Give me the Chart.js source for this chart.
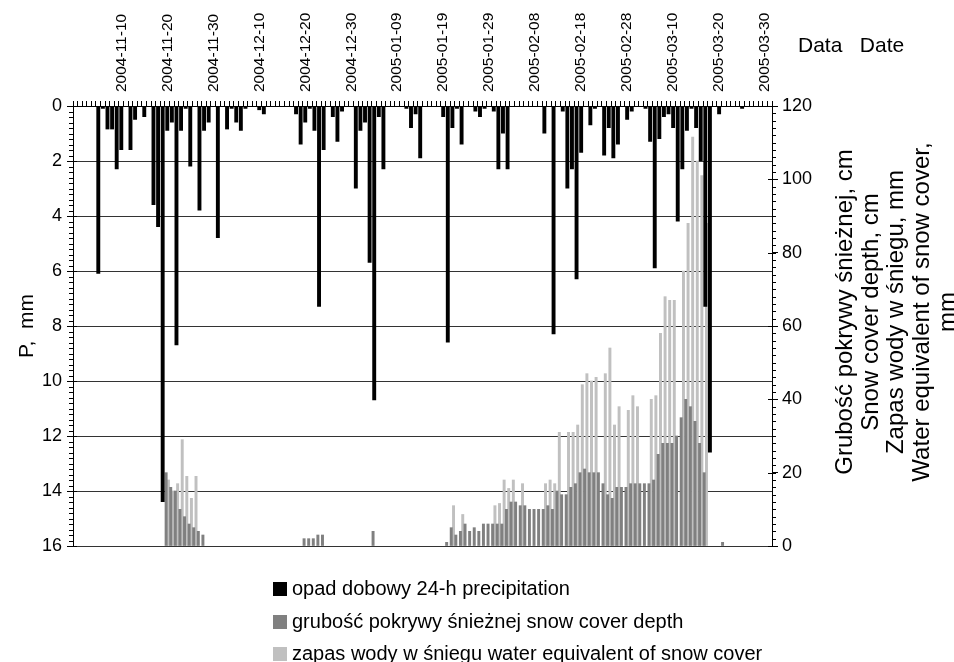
<!DOCTYPE html>
<html>
<head>
<meta charset="utf-8">
<script src="https://cdn.jsdelivr.net/npm/chart.js@4.4.1/dist/chart.umd.min.js"></script>
<style>
  html, body { margin: 0; padding: 0; background: #fff; }
  #wrap { position: relative; width: 954px; height: 662px; font-family: 'Liberation Sans', Arial, sans-serif; color: #000; overflow: hidden; }
  #chart { position: absolute; left: 0; top: 0; }
  #rtitle { position: absolute; width: 440px; height: 128px; left: 675px; top: 248px; transform: rotate(-90deg); transform-origin: 50% 50%; text-align: center; font-size: 24px; line-height: 25.7px; white-space: nowrap; }
  #datehdr { position: absolute; left: 798px; top: 33px; font-size: 21px; white-space: pre; }
  #legend { position: absolute; left: 273px; top: 574px; font-size: 20px; }
  .lrow { height: 32.5px; line-height: 28px; white-space: nowrap; }
  .lsw { display: inline-block; width: 14px; height: 14px; margin-right: 5px; vertical-align: -1px; }
</style>
</head>
<body>
<div id="wrap">
  <canvas id="chart" width="954" height="662"></canvas>
  <div id="datehdr">Data   Date</div>
  <div id="rtitle"></div>
  <div id="legend"></div>
</div>
<script>
// ---- categories: one bar slot per day, 2004-10-31 .. 2005-03-31 ----
const firstDay = [2004, 9, 31];
const dayCount = 152;
const dates = [];
for (let i = 0; i < dayCount; i++) {
  dates.push(new Date(Date.UTC(firstDay[0], firstDay[1], firstDay[2] + i)).toISOString().slice(0, 10));
}
// ---- tick labels shown on the top date axis ----
const dateTickLabels = ['2004-11-10','2004-11-20','2004-11-30','2004-12-10','2004-12-20','2004-12-30',
  '2005-01-09','2005-01-19','2005-01-29','2005-02-08','2005-02-18','2005-02-28','2005-03-10','2005-03-20','2005-03-30'];
const pTicks = [0, 16, 2];      // min, max, step  (P, mm)
const snowTicks = [0, 120, 20]; // min, max, step  (cm / mm)

// ---- series: daily precipitation P [mm] ----
const precipitation = [
  null, null, null, null, null, 6.1, 0.1, 0.85, 0.85, 2.3,   // 10-31 .. 11-09
  1.6, null, 1.6, 0.5, null, 0.4, null, 3.6, 4.4, 14.4,     // 11-10 .. 11-19
  0.9, 0.6, 8.7, 0.9, 0.1, 2.2, null, 3.8, 0.9, 0.6,        // 11-20 .. 11-29
  null, 4.8, null, 0.85, 0.1, 0.6, 0.9, 0.1, null, null,    // 11-30 .. 12-09
  0.15, 0.3, null, null, null, null, null, null, 0.3, 1.4,  // 12-10 .. 12-19
  0.6, 0.1, 0.9, 7.3, 1.6, null, 0.4, 1.3, 0.2, null,       // 12-20 .. 12-29
  null, 3.0, 0.9, 0.6, 5.7, 10.7, 0.4, 2.3, null, null,     // 12-30 .. 01-08
  null, null, 0.1, 0.8, 0.3, 1.9, null, null, null, null,   // 01-09 .. 01-18
  0.4, 8.6, 0.8, 0.1, 1.4, null, null, 0.2, 0.4, 0.1,       // 01-19 .. 01-28
  null, 0.2, 2.3, 1.0, 2.3, null, null, null, null, null,   // 01-29 .. 02-07
  null, null, 1.0, null, 8.3, null, 0.2, 3.0, 2.3, 6.3,     // 02-08 .. 02-17
  1.7, null, 0.7, 0.1, null, 1.8, 0.8, 1.9, 1.4, null,      // 02-18 .. 02-27
  0.5, 0.2, null, null, 0.1, 1.3, 5.9, 1.2, 0.4, 0.3,       // 02-28 .. 03-09
  0.8, 4.2, 2.3, 0.9, 0.1, 0.8, 2.0, 7.3, 12.6, null,       // 03-10 .. 03-19
  0.3, null, null, null, null, 0.1, null, null, null, null, // 03-20 .. 03-29
  null, null                                                // 03-30 .. 03-31
];
// ---- series: snow cover depth [cm] ----
const snowDepth = [
  null, null, null, null, null, null, null, null, null, null,
  null, null, null, null, null, null, null, null, null, null,
  20, 16, 15, 10, 8, 6, 5, 4, 3, null,
  null, null, null, null, null, null, null, null, null, null,
  null, null, null, null, null, null, null, null, null, null,
  2, 2, 2, 3, 3, null, null, null, null, null,
  null, null, null, null, null, 4, null, null, null, null,
  null, null, null, null, null, null, null, null, null, null,
  null, 1, 5, 3, 4, 6, 4, 5, 4, 6,
  6, 6, 6, 6, 10, 12, 12, 11, 11, 10,
  10, 10, 10, 11, 10, 15, 14, 14, 16, 17,
  20, 21, 20, 20, 20, 17, 14, 13, 16, 16,
  16, 17, 17, 17, 17, 17, 18, 25, 28, 28,
  28, 30, 35, 40, 38, 34, 28, 20, null, null,
  null, 1, null, null, null, null, null, null, null, null,
  null, null
];
// ---- series: water equivalent of snow cover [mm] ----
const snowWater = [
  null, null, null, null, null, null, null, null, null, null,
  null, null, null, null, null, null, null, null, null, null,
  18, 15, 17, 29, 19, 13, 19, null, null, null,
  null, null, null, null, null, null, null, null, null, null,
  null, null, null, null, null, null, null, null, null, null,
  null, null, null, null, null, null, null, null, null, null,
  null, null, null, null, null, null, null, null, null, null,
  null, null, null, null, null, null, null, null, null, null,
  null, null, 11, null, 8.6, null, null, null, null, null,
  null, 11, 11.6, 18, 15.7, 18, null, 17, null, null,
  null, null, 17, 18, 17, 31, null, 31, 31, 33,
  44, 47, 45, 46, null, 47, 54, 33, 38, null,
  37, 41, 38, null, null, 40, 41, 58, 68, 67,
  67, null, 75, 88, 111.5, 105, 101, 88, null, null,
  null, null, null, null, null, null, null, null, null, null,
  null, null
];
const seriesNames = ['opad dobowy 24-h precipitation', 'grubość pokrywy śnieżnej snow cover depth', 'zapas wody w śniegu water equivalent of snow cover'];
const seriesColors = ['#000000', '#808080', '#c0c0c0'];
const rightTitleLines = ['Grubość pokrywy śnieżnej, cm', 'Snow cover depth, cm', 'Zapas wody w śniegu, mm', 'Water equivalent of snow cover,', 'mm'];

Chart.defaults.font.family = "'Liberation Sans', Arial, sans-serif";
Chart.defaults.color = '#000';

const minorTicks = {
  id: 'minorTicks',
  afterDraw(chart) {
    const ctx = chart.ctx, ys = chart.scales.y, y2 = chart.scales.y2, ca = chart.chartArea;
    ctx.save();
    ctx.strokeStyle = '#000';
    ctx.lineWidth = 1;
    ctx.beginPath();
    for (let k = 0; k <= 80; k++) {
      const p = Math.round(ys.getPixelForValue(k * 0.2)) + 0.5;
      ctx.moveTo(ca.left - 4, p); ctx.lineTo(ca.left, p);
    }
    for (let k = 0; k <= 60; k++) {
      const p = Math.round(y2.getPixelForValue(k * 2)) + 0.5;
      ctx.moveTo(ca.right, p); ctx.lineTo(ca.right + 4, p);
    }
    for (let v = pTicks[0]; v <= pTicks[1]; v += pTicks[2]) {
      const p = Math.round(ys.getPixelForValue(v)) + 0.5;
      ctx.moveTo(ca.left, p); ctx.lineTo(ca.left + 4, p);
    }
    for (let v = snowTicks[0]; v <= snowTicks[1]; v += snowTicks[2]) {
      const p = Math.round(y2.getPixelForValue(v)) + 0.5;
      ctx.moveTo(ca.right - 4, p); ctx.lineTo(ca.right, p);
    }
    ctx.stroke();
    ctx.restore();
  }
};

new Chart(document.getElementById('chart'), {
  type: 'bar',
  data: {
    labels: dates,
    datasets: [
      { label: seriesNames[0], data: precipitation, backgroundColor: seriesColors[0], xAxisID: 'x2', yAxisID: 'y', grouped: false, barPercentage: 0.85, categoryPercentage: 1.0 },
      { label: seriesNames[1], data: snowDepth, backgroundColor: seriesColors[1], xAxisID: 'x', yAxisID: 'y2', barThickness: 2.3 },
      { label: seriesNames[2], data: snowWater, backgroundColor: seriesColors[2], xAxisID: 'x', yAxisID: 'y2', barThickness: 2.3 }
    ]
  },
  options: {
    responsive: false,
    animation: false,
    layout: { padding: { top: 0, left: 0, right: 0, bottom: 116 } },
    plugins: { legend: { display: false }, tooltip: { enabled: false } },
    scales: {
      x: { type: 'category', display: false, offset: true },
      x2: {
        type: 'category', position: 'top', offset: true,
        grid: { drawOnChartArea: false, tickLength: 5, color: '#000' },
        border: { display: true, color: '#000', width: 1 },
        ticks: {
          autoSkip: false, minRotation: 90, maxRotation: 90, padding: 9, labelOffset: 18.6,
          font: { size: 15.5 }, color: '#000',
          callback: (v, i) => dateTickLabels.includes(dates[i]) ? dates[i] : ''
        },
        afterFit: s => { s.height = 106; }
      },
      y: {
        position: 'left', reverse: true, min: pTicks[0], max: pTicks[1],
        ticks: { stepSize: pTicks[2], font: { size: 18 }, color: '#000', padding: 5 },
        grid: { color: '#333', lineWidth: 1, tickLength: 6, tickColor: '#000' },
        border: { display: true, color: '#000' },
        title: { display: true, text: 'P,  mm', font: { size: 21 }, color: '#000', padding: { top: 15, bottom: 0 } },
        afterFit: s => { s.width = 73; }
      },
      y2: {
        position: 'right', min: snowTicks[0], max: snowTicks[1],
        ticks: { stepSize: snowTicks[2], font: { size: 18 }, color: '#000', padding: 4 },
        grid: { drawOnChartArea: false, tickLength: 6, color: '#000' },
        border: { display: true, color: '#000' },
        afterFit: s => { s.width = 182; }
      }
    }
  },
  plugins: [minorTicks]
});

document.getElementById('rtitle').innerHTML = rightTitleLines.map(t => '<div>' + t + '</div>').join('');
document.getElementById('legend').innerHTML = seriesNames.map((n, i) =>
  '<div class="lrow"><span class="lsw" style="background:' + seriesColors[i] + '"></span>' + n + '</div>').join('');
</script>
</body>
</html>
